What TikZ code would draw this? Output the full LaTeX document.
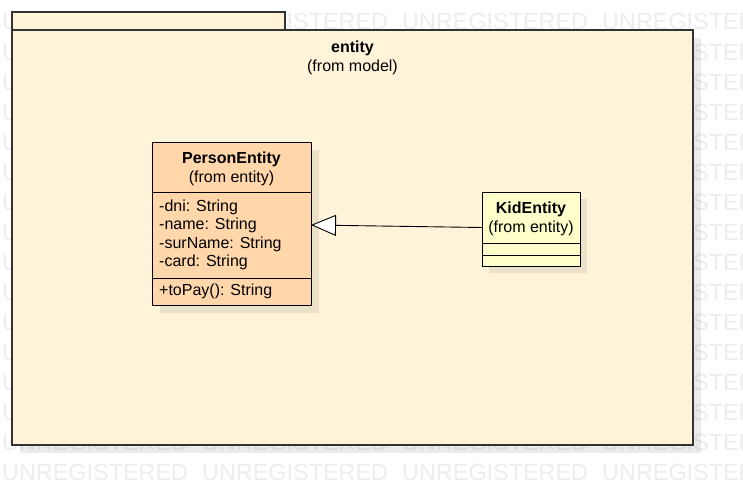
\documentclass[tikz,border=0pt]{standalone}
\usepackage{fontspec}
\setmainfont{Liberation Sans}
\usetikzlibrary{arrows.meta,calc}
\definecolor{pkgfill}{HTML}{FFF4DA}
\definecolor{personfill}{HTML}{FFD7AB}
\definecolor{kidfill}{HTML}{FFFFCC}
\definecolor{wmgray}{HTML}{EDEDED}
\begin{document}
\begin{tikzpicture}[x=1pt,y=-1pt,
  pkgbox/.style={draw=black!80, line width=1.3pt, fill=pkgfill, inner sep=0, outer sep=0},
  classbox/.style={draw=black, line width=0.9pt, inner sep=0, outer sep=0},
  sepline/.style={draw=black, line width=0.9pt},
  shadowbox/.style={fill=black, opacity=0.08, draw=none},
  txt/.style={font=\fontsize{16}{18}\selectfont, inner sep=0},
  ttl/.style={font=\fontsize{16}{18}\selectfont\bfseries, inner sep=0},
  wm/.style={font=\fontsize{23.4}{24}\selectfont, text=wmgray, inner sep=0},
  genarrow/.style={draw=black, line width=0.9pt, -{Triangle[length=25pt,width=21pt,fill=white]}}
]
\useasboundingbox (0,0) rectangle (743,495);
\fill[white] (0,0) rectangle (743,495);
% watermark
\begin{scope}
\clip (0,0) rectangle (743,495);
\foreach \r in {0,...,15} {
  \foreach \c in {0,...,3} {
    \node[wm, anchor=base west] (wm-\r-\c) at ({2+200*\c}, {480-30*\r}) {UNREGISTERED};
  }
}
\end{scope}
% package shadow
\fill[shadowbox] (20,38) rectangle (701,453);
% package
\node[pkgbox, minimum width=273pt, minimum height=18pt, anchor=north west] (tab) at (12,12) {};
\node[pkgbox, minimum width=681pt, minimum height=415pt, anchor=north west] (pkg) at (12,30) {};
\node[ttl, anchor=base] (pkgname) at (352.5,52.5) {entity};
\node[txt, anchor=base] (pkgfrom) at (352.5,71.5) {(from model)};
% class shadows
\fill[shadowbox] (160,150) rectangle (319,313);
\fill[shadowbox] (489,199) rectangle (587,273);
% PersonEntity
\node[classbox, fill=personfill, minimum width=159pt, minimum height=163pt] (person) at (231.5,223.5) {};
\coordinate (ps1) at (152,192);
\coordinate (ps2) at (152,278);
\draw[sepline] (ps1) -- (ps1 -| person.east);
\draw[sepline] (ps2) -- (ps2 -| person.east);
\node[ttl, anchor=base] (pname) at (231.5,163.5) {PersonEntity};
\node[txt, anchor=base] (pfrom) at (231.5,182.5) {(from entity)};
\node[txt, anchor=base west] (pa1) at (159,211.5) {-dni: String};
\node[txt, anchor=base west] (pa2) at (159,229.8) {-name: String};
\node[txt, anchor=base west] (pa3) at (159,248.1) {-surName: String};
\node[txt, anchor=base west] (pa4) at (159,266.4) {-card: String};
\node[txt, anchor=base west] (pop1) at (159,295.5) {+toPay(): String};
% KidEntity
\node[classbox, fill=kidfill, minimum width=98pt, minimum height=74pt] (kid) at (531,229) {};
\coordinate (ks1) at (482,243);
\coordinate (ks2) at (482,255);
\draw[sepline] (ks1) -- (ks1 -| kid.east);
\draw[sepline] (ks2) -- (ks2 -| kid.east);
\node[ttl, anchor=base] (kname) at (531,213.5) {KidEntity};
\node[txt, anchor=base] (kfrom) at (531,232.5) {(from entity)};
% generalization
\draw[genarrow] ($(kid.west)+(0,-1.5)$) -- ($(person.east)+(0,1.5)$);
\end{tikzpicture}
\end{document}
